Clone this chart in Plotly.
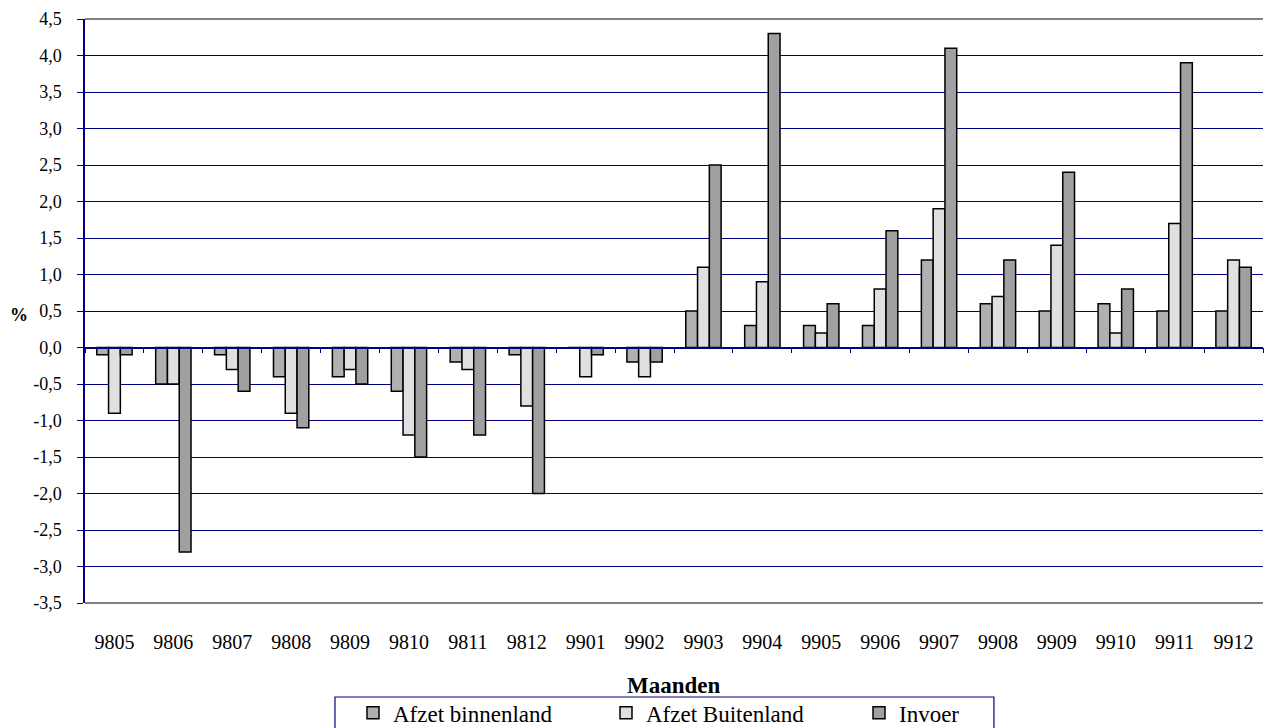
import plotly.graph_objects as go

months = ["9805", "9806", "9807", "9808", "9809", "9810", "9811", "9812", "9901", "9902",
          "9903", "9904", "9905", "9906", "9907", "9908", "9909", "9910", "9911", "9912"]
afzet_binnenland = [-0.1, -0.5, -0.1, -0.4, -0.4, -0.6, -0.2, -0.1, 0.0, -0.2,
                    0.5, 0.3, 0.3, 0.3, 1.2, 0.6, 0.5, 0.6, 0.5, 0.5]
afzet_buitenland = [-0.9, -0.5, -0.3, -0.9, -0.3, -1.2, -0.3, -0.8, -0.4, -0.4,
                    1.1, 0.9, 0.2, 0.8, 1.9, 0.7, 1.4, 0.2, 1.7, 1.2]
invoer = [-0.1, -2.8, -0.6, -1.1, -0.5, -1.5, -1.2, -2.0, -0.1, -0.2,
          2.5, 4.3, 0.6, 1.6, 4.1, 1.2, 2.4, 0.8, 3.9, 1.1]
y_ticks = [-3.5, -3.0, -2.5, -2.0, -1.5, -1.0, -0.5, 0.0, 0.5, 1.0, 1.5, 2.0, 2.5, 3.0, 3.5, 4.0, 4.5]
y_tick_labels = [f"{v:.1f}".replace(".", ",") for v in y_ticks]

FONT = "Liberation Serif, Times New Roman, Times, DejaVu Serif, serif"
NAVY = "#000080"

fig = go.Figure()
for name, vals, col in [("Afzet binnenland", afzet_binnenland, "#b0b0b0"),
                        ("Afzet Buitenland", afzet_buitenland, "#e0e0e0"),
                        ("Invoer", invoer, "#a0a0a0")]:
    fig.add_trace(go.Bar(x=months, y=vals, name=name,
                         marker=dict(color=col, line=dict(color="black", width=1.5))))

# invisible helper trace for the category axis drawn at y=0
fig.add_trace(go.Scatter(x=[-0.5, 19.5], y=[0, 0], xaxis="x2", mode="lines",
                         line=dict(color="rgba(0,0,0,0)"), showlegend=False, hoverinfo="skip"))

fig.update_layout(
    width=1265, height=728,
    margin=dict(l=85, r=2, t=19, b=125, autoexpand=False),
    paper_bgcolor="white", plot_bgcolor="white",
    font=dict(family=FONT, color="black", size=17),
    barmode="group", bargap=0.4, bargroupgap=0,
    showlegend=True,
    legend=dict(orientation="h", x=0.2275, xanchor="left", y=-0.151, yanchor="top",
                borderwidth=0, font=dict(size=23, family=FONT),
                entrywidth=208, entrywidthmode="pixels",
                traceorder="normal", bgcolor="rgba(0,0,0,0)"),
    xaxis=dict(type="category", showgrid=False, showline=False, zeroline=False,
               ticks="outside", ticklen=21, tickcolor="rgba(0,0,0,0)",
               tickfont=dict(size=20, family=FONT)),
    xaxis2=dict(overlaying="x", anchor="free", position=3.5 / 8, range=[-0.5, 19.5],
                showline=True, linecolor=NAVY, linewidth=1.5, showgrid=False, zeroline=False,
                ticks="outside", tickmode="linear", tick0=-0.5, dtick=1, ticklen=5,
                tickcolor=NAVY, showticklabels=False, side="bottom"),
    yaxis=dict(range=[-3.5, 4.5], tickmode="array", tickvals=y_ticks, ticktext=y_tick_labels,
               showgrid=True, gridcolor=NAVY, gridwidth=1, zeroline=False,
               showline=True, linecolor=NAVY, linewidth=1.5,
               ticks="outside", ticklen=6, tickcolor=NAVY, ticklabelstandoff=12,
               tickfont=dict(size=18, family=FONT)),
    shapes=[dict(type="line", xref="paper", yref="paper", x0=0, x1=1, y0=1, y1=1,
                 line=dict(color="#808080", width=2)),
            dict(type="line", xref="paper", yref="paper", x0=0, x1=1, y0=0, y1=0,
                 line=dict(color="#808080", width=2)),
            dict(type="rect", xref="paper", yref="paper", x0=0.2122, x1=0.7716,
                 y0=-0.161, y1=-0.30, line=dict(color=NAVY, width=1.2),
                 fillcolor="rgba(0,0,0,0)")],
    annotations=[
        dict(text="<b>%</b>", xref="paper", yref="paper", x=-0.056, y=0.493,
             xanchor="center", yanchor="middle",
             showarrow=False, font=dict(size=18, family=FONT)),
        dict(text="<b>Maanden</b>", xref="paper", yref="paper", x=0.5, y=-0.142,
             xanchor="center", yanchor="middle",
             showarrow=False, font=dict(size=23, family=FONT)),
    ],
)

fig.write_html("out.html", config={"displayModeBar": False},
               post_script="document.body.style.margin='0';document.body.style.overflow='hidden';")
